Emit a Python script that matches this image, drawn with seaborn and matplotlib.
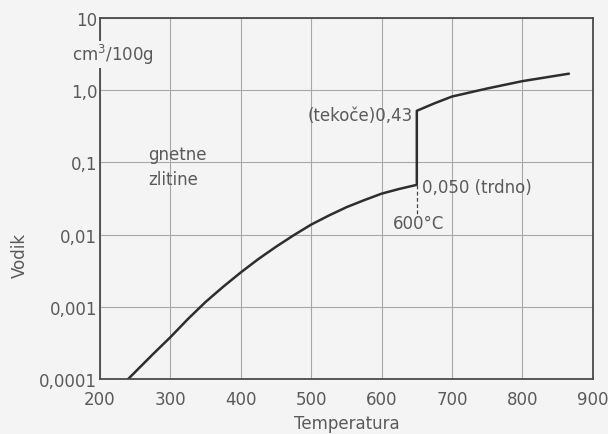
import numpy as np
import pandas as pd
import seaborn as sns
import matplotlib.pyplot as plt

# values
temperatura = [240, 275, 300, 325, 350, 375, 400, 425, 450, 475, 500, 525, 550, 575,
               600, 625, 650,
               650, 675, 700, 750, 800, 866]
vodik = [0.0001, 0.00022, 0.00038, 0.00068, 0.00117, 0.0019, 0.0030, 0.0046, 0.0068,
         0.0098, 0.0138, 0.0184, 0.024, 0.030, 0.037, 0.043, 0.049,
         0.52, 0.66, 0.82, 1.06, 1.34, 1.70]
x_ticks = [200, 300, 400, 500, 600, 700, 800, 900]
y_ticks = [0.0001, 0.001, 0.01, 0.1, 1.0, 10]
y_labels = ['0,0001', '0,001', '0,01', '0,1', '1,0', '10']

df = pd.DataFrame({'Temperatura': temperatura, 'Vodik': vodik})

bg = '#f4f4f4'
txt = '#5a5a5a'
fs = 12
sns.set_style('whitegrid', {'axes.facecolor': bg, 'figure.facecolor': bg,
                            'grid.color': '#a8a8a8', 'axes.edgecolor': '#4a4a4a'})
plt.rcParams['font.family'] = ['DejaVu Sans']

fig = plt.figure(figsize=(6.08, 4.35), dpi=100)
ax = fig.add_axes([0.1645, 0.1264, 0.8105, 0.8296])

sns.lineplot(data=df, x='Temperatura', y='Vodik', sort=False, estimator=None,
             color='#2e2e2e', linewidth=1.8, ax=ax)

ax.set_yscale('log')
ax.set_xlim(200, 900)
ax.set_ylim(0.0001, 10)
ax.set_xticks(x_ticks)
ax.set_xticklabels([str(t) for t in x_ticks], color=txt, fontsize=fs)
ax.set_yticks(y_ticks)
ax.set_yticklabels(y_labels, color=txt, fontsize=fs)
ax.yaxis.set_minor_locator(plt.NullLocator())
ax.tick_params(axis='x', length=0, pad=8)
ax.tick_params(axis='y', length=0, pad=2)
ax.grid(True, linewidth=0.8)
for s in ax.spines.values():
    s.set_linewidth(1.3)

ax.set_xlabel('Temperatura', color=txt, fontsize=fs, labelpad=4)
ax.set_ylabel('Vodik', color=txt, fontsize=fs)
ax.yaxis.set_label_coords(-0.145, 0.346)

# unit label breaking the left spine
ax.text(-0.057, 0.90, 'cm$^3$/100g', transform=ax.transAxes, ha='left', va='center',
        color=txt, fontsize=fs, clip_on=False, zorder=5,
        bbox=dict(facecolor=bg, edgecolor='none', pad=1))

ax.text(268, 0.088, 'gnetne\nzlitine', color=txt, fontsize=fs, ha='left', va='center',
        linespacing=1.45)
ax.text(645, 0.46, '(tekoče)0,43', color=txt, fontsize=fs, ha='right', va='center')
ax.text(658, 0.046, '0,050 (trdno)', color=txt, fontsize=fs, ha='left', va='center')
ax.plot([650, 650], [0.049, 0.019], color='#444444', linewidth=0.9, linestyle=(0, (3, 2)))
ax.text(653, 0.0145, '600°C', color=txt, fontsize=fs, ha='center', va='center')

fig.savefig('out.png', dpi=100, facecolor=bg)
